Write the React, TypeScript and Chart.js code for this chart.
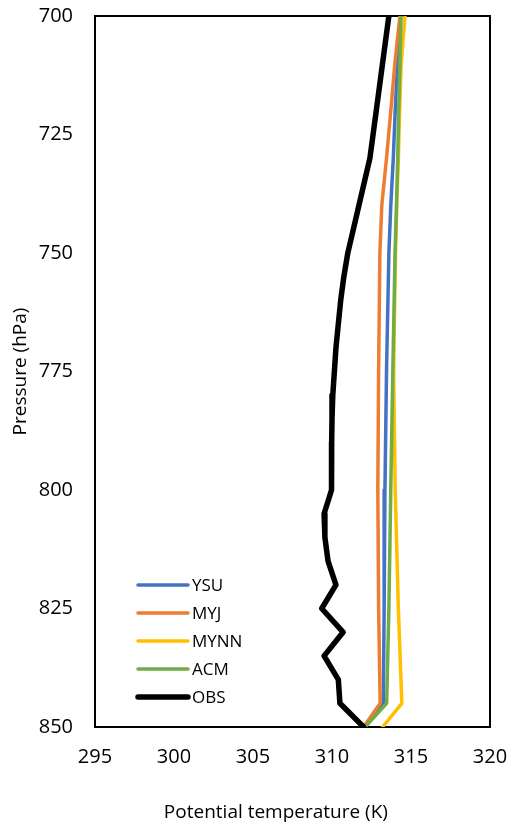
import React, { useEffect, useRef } from "react";
import { Chart, registerables } from "chart.js";

Chart.register(...registerables);

// Observation levels (hPa) and observed potential temperature (K)
const OBS_LEVELS = [700, 705, 710, 715, 720, 725, 730, 735, 740, 745, 750, 755, 760, 765, 770, 775, 780, 785, 790, 795, 800, 805, 810, 815, 820, 825, 830, 835, 840, 845, 850];
const OBS = [313.6, 313.4, 313.2, 313.0, 312.8, 312.6, 312.4, 312.05, 311.7, 311.35, 311.0, 310.75, 310.55, 310.4, 310.25, 310.15, 310.05, 310.0, 309.98, 309.97, 309.97, 309.5, 309.55, 309.75, 310.25, 309.35, 310.7, 309.5, 310.4, 310.5, 312.0];

// Model levels (hPa) and model potential temperature (K)
const MODEL_LEVELS = [700, 710, 720, 730, 740, 750, 775, 800, 825, 845, 850];
const YSU = [314.32, 314.15, 314.0, 313.88, 313.72, 313.6, 313.45, 313.35, 313.3, 313.25, 312.0];
const MYJ = [314.3, 313.98, 313.72, 313.45, 313.15, 313.03, 312.95, 312.9, 312.95, 313.05, 312.0];
const MYNN = [314.62, 314.38, 314.28, 314.2, 314.1, 314.02, 313.9, 314.0, 314.2, 314.42, 313.2];
const ACM = [314.37, 314.3, 314.22, 314.16, 314.08, 313.99, 313.85, 313.72, 313.6, 313.46, 312.1];

const SERIES_NAMES = ["YSU", "MYJ", "MYNN", "ACM", "OBS"];
const SERIES_COLORS = ["#4472C4", "#ED7D31", "#FFC000", "#70AD47", "#000000"];

const X_MIN = 295;
const X_MAX = 320;
const X_STEP = 5;
const Y_MIN = 700;
const Y_MAX = 850;
const Y_STEP = 25;

const X_TITLE = "Potential temperature (K)";
const Y_TITLE = "Pressure (hPa)";

const FONT = "'Open Sans', 'Noto Sans', sans-serif";

const toPoints = (levels: number[], values: number[]) =>
  levels.map((p, i) => ({ x: values[i], y: p }));

const framePlugin = {
  id: "frame",
  beforeDatasetsDraw(chart: any) {
    const { ctx, chartArea } = chart;
    ctx.save();
    ctx.strokeStyle = "#000";
    ctx.lineWidth = 2;
    ctx.strokeRect(chartArea.left, chartArea.top, chartArea.right - chartArea.left, chartArea.bottom - chartArea.top);
    ctx.restore();
  },
};

const titlesPlugin = {
  id: "titles",
  afterDraw(chart: any) {
    const { ctx, chartArea } = chart;
    ctx.save();
    ctx.fillStyle = "#000";
    ctx.font = `19px ${FONT}`;
    ctx.textAlign = "center";
    ctx.textBaseline = "middle";
    const xc = chartArea.left + (chartArea.right - chartArea.left) * 0.458;
    ctx.fillText(X_TITLE, xc, chartArea.bottom + 86);
    ctx.translate(21, (chartArea.top + chartArea.bottom) / 2);
    ctx.rotate(-Math.PI / 2);
    ctx.fillText(Y_TITLE, 0, 0);
    ctx.restore();
  },
};

const legendPlugin = {
  id: "customLegend",
  afterDraw(chart: any) {
    const { ctx, chartArea } = chart;
    ctx.save();
    const x0 = chartArea.left + 43;
    const len = 50;
    const rowH = 28;
    const y0 = chartArea.bottom - 142;
    chart.data.datasets.forEach((ds: any, i: number) => {
      const y = y0 + i * rowH;
      ctx.strokeStyle = ds.borderColor;
      ctx.lineWidth = ds.borderWidth;
      ctx.lineCap = "round";
      ctx.beginPath();
      ctx.moveTo(x0, y);
      ctx.lineTo(x0 + len, y);
      ctx.stroke();
      ctx.fillStyle = "#000";
      ctx.font = `17px ${FONT}`;
      ctx.textAlign = "left";
      ctx.textBaseline = "middle";
      ctx.fillText(ds.label, x0 + len + 4, y + 1);
    });
    ctx.restore();
  },
};

export default function App() {
  const ref = useRef<HTMLCanvasElement | null>(null);

  useEffect(() => {
    if (!ref.current) return;
    const seriesValues = [YSU, MYJ, MYNN, ACM];
    const datasets: any[] = seriesValues.map((vals, i) => ({
      label: SERIES_NAMES[i],
      data: toPoints(MODEL_LEVELS, vals),
      borderColor: SERIES_COLORS[i],
      backgroundColor: SERIES_COLORS[i],
      borderWidth: 3.5,
      showLine: true,
      pointRadius: 0,
      pointHoverRadius: 0,
      borderJoinStyle: "round",
      borderCapStyle: "round",
      tension: 0,
      order: 5 - i,
    }));
    datasets.push({
      label: SERIES_NAMES[4],
      data: toPoints(OBS_LEVELS, OBS),
      borderColor: SERIES_COLORS[4],
      backgroundColor: SERIES_COLORS[4],
      borderWidth: 5.5,
      showLine: true,
      pointRadius: 0,
      pointHoverRadius: 0,
      borderJoinStyle: "round",
      borderCapStyle: "round",
      tension: 0,
      order: 1,
    });

    const chart = new Chart(ref.current, {
      type: "scatter",
      data: { datasets },
      options: {
        animation: false,
        responsive: false,
        maintainAspectRatio: false,
        layout: { padding: { top: 16, right: 23, left: 0, bottom: 0 } },
        plugins: {
          legend: { display: false },
          tooltip: { enabled: false },
        },
        scales: {
          x: {
            type: "linear",
            min: X_MIN,
            max: X_MAX,
            afterFit(scale: any) {
              scale.height = 105;
              scale.paddingLeft = 0;
              scale.paddingRight = 0;
            },
            ticks: {
              stepSize: X_STEP,
              color: "#000",
              padding: 18,
              font: { family: FONT, size: 20 },
              maxRotation: 0,
            },
            grid: { display: false, drawTicks: false },
            border: { display: false },
          },
          y: {
            type: "linear",
            reverse: true,
            min: Y_MIN,
            max: Y_MAX,
            afterFit(scale: any) {
              scale.width = 95;
              scale.paddingTop = 0;
              scale.paddingBottom = 0;
            },
            ticks: {
              stepSize: Y_STEP,
              color: "#000",
              padding: 22,
              font: { family: FONT, size: 20 },
            },
            grid: { display: false, drawTicks: false },
            border: { display: false },
          },
        },
      },
      plugins: [framePlugin, titlesPlugin, legendPlugin],
    });
    return () => chart.destroy();
  }, []);

  return (
    <div style={{ position: "absolute", left: 0, top: 0, width: 513, height: 832, background: "#fff" }}>
      <canvas ref={ref} width={513} height={832} style={{ display: "block" }} />
    </div>
  );
}
